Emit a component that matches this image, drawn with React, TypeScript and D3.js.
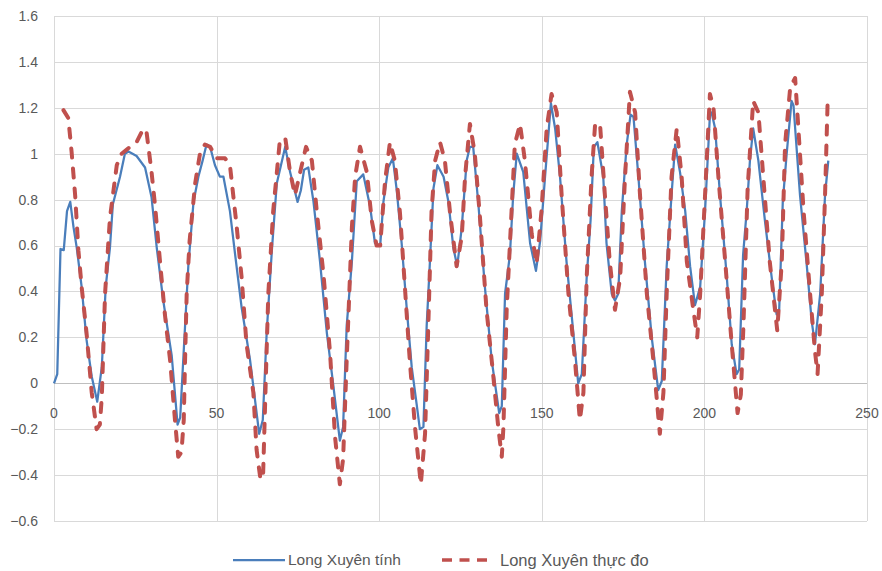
import * as d3 from 'd3';
import * as React from 'react';

// Long Xuyên: calculated water level (solid) vs measured (dashed)
const calcX = [0, 1, 2, 3, 4, 5, 6, 7, 8.5, 10, 11.6, 13.3, 14.7, 15.9, 17.2, 18.1, 20.3, 21.8, 22.9, 25.4, 28, 30, 31.6, 33.6, 36.2, 38, 38.8, 40, 41.3, 42.9, 44.4, 45.7, 46.9, 48, 49.5, 51, 52.1, 54.1, 55.7, 57.7, 60.3, 63.1, 64.2, 65.4, 67, 68.5, 71.1, 72.6, 74.9, 75.9, 76.9, 78.2, 79.8, 81.8, 83.9, 85.9, 87.9, 88.9, 90, 91.6, 93.1, 95.1, 97.2, 98.7, 100.3, 101.3, 102.8, 104.2, 105.4, 106.9, 108.5, 110, 111.5, 112.5, 113.6, 114.6, 115.6, 116.7, 117.9, 119.8, 121.3, 122.8, 124, 125.4, 126.9, 127.9, 128.9, 130.5, 132.5, 134.6, 136.9, 137.7, 138.7, 140.2, 141.2, 142.3, 144.3, 146.4, 148.2, 149.5, 151, 152.8, 154.1, 155.6, 157.6, 159.7, 161.2, 162.3, 163.8, 165, 166, 167.1, 168.9, 169.9, 171.5, 172.5, 173.5, 174.6, 176.1, 177.3, 178.2, 179.7, 181.7, 183.8, 185.8, 186.9, 188.4, 189.9, 191, 192.5, 194.1, 195.6, 197.1, 198.7, 200.2, 201.7, 202.2, 203.3, 204.8, 206.9, 208.4, 209.9, 210.7, 211.9, 213, 214, 215, 216.6, 218.6, 220.7, 222.2, 223, 224.1, 225.3, 226.8, 227.4, 229.4, 231.5, 233, 234, 235.6, 237.1, 238.1];
const calcY = [0, 0.04, 0.585, 0.58, 0.75, 0.79, 0.68, 0.59, 0.42, 0.19, 0.03, -0.08, 0.07, 0.42, 0.59, 0.78, 0.9, 1.0, 1.01, 0.99, 0.94, 0.81, 0.59, 0.36, 0.12, -0.18, -0.15, 0.17, 0.51, 0.79, 0.9, 0.97, 1.04, 1.03, 0.95, 0.9, 0.9, 0.75, 0.56, 0.33, 0.1, -0.22, -0.16, 0.22, 0.58, 0.87, 1.03, 0.92, 0.79, 0.84, 0.93, 0.94, 0.79, 0.53, 0.22, -0.01, -0.25, -0.19, 0.25, 0.53, 0.88, 0.91, 0.77, 0.61, 0.6, 0.79, 0.94, 0.98, 0.84, 0.61, 0.32, 0.07, -0.09, -0.2, -0.19, 0.25, 0.53, 0.85, 0.95, 0.9, 0.79, 0.59, 0.51, 0.68, 0.97, 1.03, 1.03, 0.78, 0.42, 0.1, -0.13, -0.1, 0.39, 0.56, 0.82, 1.0, 0.92, 0.61, 0.49, 0.62, 0.9, 1.22, 1.11, 0.9, 0.53, 0.22, 0.0, 0.04, 0.46, 0.71, 1.03, 1.05, 0.9, 0.61, 0.39, 0.36, 0.39, 0.75, 1.04, 1.17, 1.16, 0.9, 0.53, 0.2, -0.03, 0.01, 0.51, 0.82, 1.04, 0.92, 0.75, 0.51, 0.34, 0.42, 0.75, 1.17, 1.18, 1.11, 0.82, 0.46, 0.17, 0.04, 0.06, 0.56, 0.75, 0.97, 1.11, 0.97, 0.71, 0.46, 0.3, 0.32, 0.79, 1.0, 1.23, 1.21, 0.82, 0.51, 0.27, 0.17, 0.39, 0.82, 0.97];

const obsX = [2.9, 4.4, 5.4, 6.5, 7.5, 8.5, 10, 11.6, 13.1, 14.1, 14.7, 15.7, 17.2, 19.3, 20.8, 23.4, 25.4, 27.5, 28.5, 30, 31.1, 32.6, 34.1, 35.7, 37.2, 38.2, 39.2, 39.9, 40.3, 40.8, 41.7, 43.4, 45, 46.4, 48, 50, 52.6, 54.1, 56.2, 57.7, 59.2, 61.3, 62.3, 63.5, 64.3, 64.6, 65.3, 65.9, 67.4, 69.4, 71.1, 72.6, 74.1, 75.7, 77.5, 79.3, 80.8, 82.9, 84.9, 86.4, 87.9, 88.9, 90, 91.6, 92.6, 94.1, 96.2, 97.7, 99.2, 100.3, 101.8, 103.3, 104.8, 106.4, 107.9, 109.4, 111, 112.8, 114.1, 115.1, 116.1, 117.2, 118.7, 120.2, 121.8, 123.8, 125.4, 126.4, 127.9, 129.4, 131, 133, 135.1, 136.6, 137.7, 138.2, 139.2, 140.7, 141.7, 143.3, 144.8, 146.9, 148.4, 149.9, 151.5, 153, 154.6, 156.1, 158.2, 160.2, 161.7, 162.8, 163.8, 165.3, 166.4, 167.9, 169.4, 170.9, 172.5, 174.1, 175.6, 177.1, 178.7, 180.2, 182.3, 184.3, 186.3, 187.4, 188.4, 189.9, 191.5, 193, 194.6, 196.6, 197.8, 198.7, 200.2, 201.7, 202.8, 204.3, 206.4, 208.4, 210.2, 211.2, 212, 213.3, 215, 216.6, 218.1, 220.1, 222.4, 223.8, 224.8, 226.4, 227.9, 228.9, 230.5, 232.5, 234, 234.8, 236.1, 237.1, 237.9];
const obsY = [1.19, 1.155, 1.01, 0.82, 0.58, 0.42, 0.22, -0.04, -0.2, -0.18, -0.06, 0.39, 0.72, 0.95, 1.0, 1.03, 1.05, 1.11, 1.09, 0.92, 0.77, 0.53, 0.3, 0.1, -0.16, -0.32, -0.3, -0.16, 0.1, 0.39, 0.62, 0.87, 1.01, 1.04, 1.03, 0.98, 0.98, 0.95, 0.68, 0.46, 0.17, -0.04, -0.29, -0.42, -0.4, -0.25, 0.1, 0.39, 0.75, 1.05, 1.07, 0.92, 0.82, 0.92, 1.03, 0.97, 0.75, 0.47, 0.13, -0.23, -0.44, -0.33, 0.1, 0.68, 0.9, 1.03, 0.92, 0.71, 0.6, 0.6, 0.88, 1.05, 0.97, 0.74, 0.42, 0.1, -0.19, -0.44, -0.22, 0.25, 0.75, 0.97, 1.05, 0.97, 0.74, 0.51, 0.64, 0.9, 1.13, 1.0, 0.72, 0.32, 0.03, -0.19, -0.32, -0.19, 0.32, 0.75, 1.04, 1.13, 0.97, 0.65, 0.52, 0.75, 1.11, 1.26, 1.18, 0.82, 0.39, 0.1, -0.16, -0.04, 0.46, 0.9, 1.13, 1.13, 0.82, 0.53, 0.32, 0.46, 0.9, 1.27, 1.18, 0.82, 0.39, 0.1, -0.22, -0.04, 0.39, 0.9, 1.11, 0.9, 0.53, 0.32, 0.2, 0.39, 0.82, 1.26, 1.2, 0.9, 0.53, 0.17, -0.13, -0.05, 0.25, 0.85, 1.23, 1.18, 0.9, 0.53, 0.23, 0.53, 1.04, 1.29, 1.33, 1.11, 0.75, 0.39, 0.14, 0.04, 0.39, 0.82, 1.23];

const xTicks = [0, 50, 100, 150, 200, 250];
const yTicks = [-0.6, -0.4, -0.2, 0, 0.2, 0.4, 0.6, 0.8, 1, 1.2, 1.4, 1.6];
const seriesNames = ['Long Xuyên tính', 'Long Xuyên thực đo'];

const W = 882;
const H = 571;
const FONT = 'Liberation Sans, Arial, sans-serif';

export default function App() {
  const ref = React.useRef<SVGSVGElement | null>(null);

  React.useEffect(() => {
    const svg = d3.select(ref.current);
    svg.selectAll('*').remove();

    const margin = { top: 16, right: 15, bottom: 50, left: 54 };
    const x = d3.scaleLinear().domain([0, 250]).range([margin.left, W - margin.right]);
    const y = d3.scaleLinear().domain([-0.6, 1.6]).range([H - margin.bottom, margin.top]);

    const grid = svg.append('g');
    yTicks.forEach((t) => {
      grid
        .append('line')
        .attr('x1', x(0))
        .attr('x2', x(250))
        .attr('y1', Math.round(y(t)) + 0.5)
        .attr('y2', Math.round(y(t)) + 0.5)
        .attr('stroke', '#d9d9d9')
        .attr('stroke-width', 1);
    });
    xTicks.forEach((t) => {
      grid
        .append('line')
        .attr('x1', Math.round(x(t)) + 0.5)
        .attr('x2', Math.round(x(t)) + 0.5)
        .attr('y1', y(1.6))
        .attr('y2', y(-0.6))
        .attr('stroke', '#d9d9d9')
        .attr('stroke-width', 1);
    });
    // x axis sits on zero
    svg
      .append('line')
      .attr('x1', x(0))
      .attr('x2', x(250))
      .attr('y1', Math.round(y(0)) + 0.5)
      .attr('y2', Math.round(y(0)) + 0.5)
      .attr('stroke', '#bfbfbf');

    svg
      .append('g')
      .selectAll('text')
      .data(yTicks)
      .enter()
      .append('text')
      .attr('x', 38)
      .attr('y', (d) => y(d))
      .attr('dy', '0.35em')
      .attr('text-anchor', 'end')
      .attr('fill', '#595959')
      .style('font-family', FONT)
      .style('font-size', '14px')
      .text((d) => d3.format('~g')(d));

    svg
      .append('g')
      .selectAll('text')
      .data(xTicks)
      .enter()
      .append('text')
      .attr('x', (d) => x(d))
      .attr('y', y(0) + 35)
      .attr('text-anchor', 'middle')
      .attr('fill', '#595959')
      .style('font-family', FONT)
      .style('font-size', '14px')
      .text((d) => d);

    const line = d3
      .line<[number, number]>()
      .x((d) => x(d[0]))
      .y((d) => y(d[1]));

    const calc = calcX.map((v, i) => [v, calcY[i]] as [number, number]);
    const obs = obsX.map((v, i) => [v, obsY[i]] as [number, number]);

    svg
      .append('path')
      .datum(calc)
      .attr('d', line)
      .attr('fill', 'none')
      .attr('stroke', '#4a7ebb')
      .attr('stroke-width', 2.25)
      .attr('stroke-linejoin', 'round');

    svg
      .append('path')
      .datum(obs)
      .attr('d', line)
      .attr('fill', 'none')
      .attr('stroke', '#c0504d')
      .attr('stroke-width', 4)
      .attr('stroke-dasharray', '9,11')
      .attr('stroke-linecap', 'round')
      .attr('stroke-linejoin', 'round');

    // legend
    const lg = svg.append('g');
    const ly = 560;
    lg.append('line').attr('x1', 233).attr('x2', 285).attr('y1', ly).attr('y2', ly).attr('stroke', '#4a7ebb').attr('stroke-width', 2.25);
    lg.append('text')
      .attr('x', 288)
      .attr('y', ly)
      .attr('dy', '0.35em')
      .attr('fill', '#595959')
      .style('font-family', FONT)
      .style('font-size', '15.5px')
      .text(seriesNames[0]);
    lg.append('line')
      .attr('x1', 442)
      .attr('x2', 487)
      .attr('y1', ly)
      .attr('y2', ly)
      .attr('stroke', '#c0504d')
      .attr('stroke-width', 3.5)
      .attr('stroke-dasharray', '10,7.5');
    lg.append('text')
      .attr('x', 500)
      .attr('y', ly)
      .attr('dy', '0.35em')
      .attr('fill', '#595959')
      .style('font-family', FONT)
      .style('font-size', '16.5px')
      .text(seriesNames[1]);
  }, []);

  return (
    <div style={{ position: 'absolute', left: 0, top: 0 }}>
      <svg ref={ref} width={W} height={H} style={{ display: 'block', background: '#fff' }} />
    </div>
  );
}
